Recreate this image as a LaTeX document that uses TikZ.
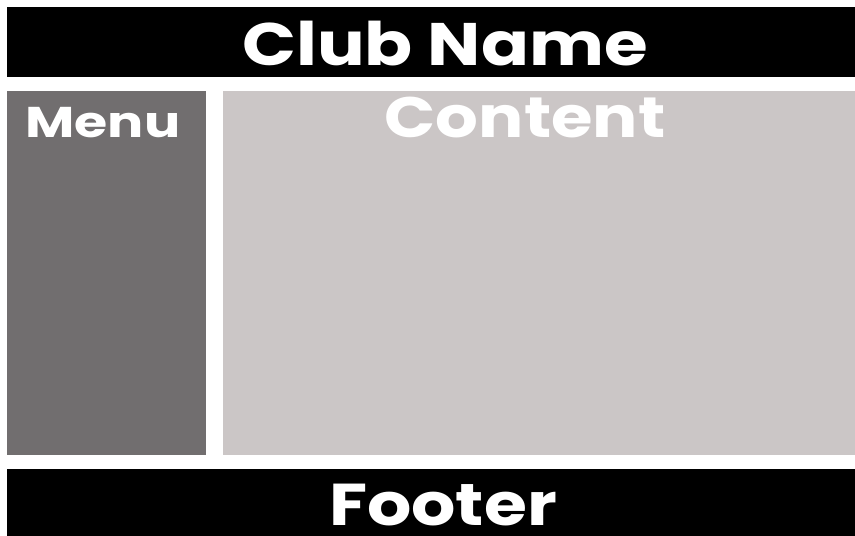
\documentclass[tikz,border=0pt]{standalone}
\usepackage{fontspec}
\setmainfont{Poppins}[BoldFont={Poppins Bold}]
\definecolor{menugray}{HTML}{716E6F}
\definecolor{contentgray}{HTML}{CBC6C6}
\tikzset{
  label/.style={text=white, anchor=base, inner sep=0pt}
}
\begin{document}
\begin{tikzpicture}[x=1pt,y=-1pt]
\useasboundingbox (0,0) rectangle (855,536);
\fill[white] (0,0) rectangle (855,536);
\fill[black] (7,7) rectangle (855,77);
\fill[menugray] (7,91) rectangle (206,455);
\fill[contentgray] (223,91) rectangle (855,455);
\fill[black] (7,469) rectangle (855,536);
\node[label, font=\fontsize{60}{60}\selectfont\bfseries] (club) at (445,65) {\scalebox{1.18}[1]{Club Name}};
\node[label, font=\fontsize{43}{43}\selectfont\bfseries] (menu) at (103,137.5) {\scalebox{1.25}[1]{Menu}};
\node[label, font=\fontsize{57}{57}\selectfont\bfseries] (content) at (525,137) {\scalebox{1.18}[1]{Content}};
\node[label, font=\fontsize{59}{59}\selectfont\bfseries] (footer) at (443,525) {\scalebox{1.18}[1]{Footer}};
\end{tikzpicture}
\end{document}
